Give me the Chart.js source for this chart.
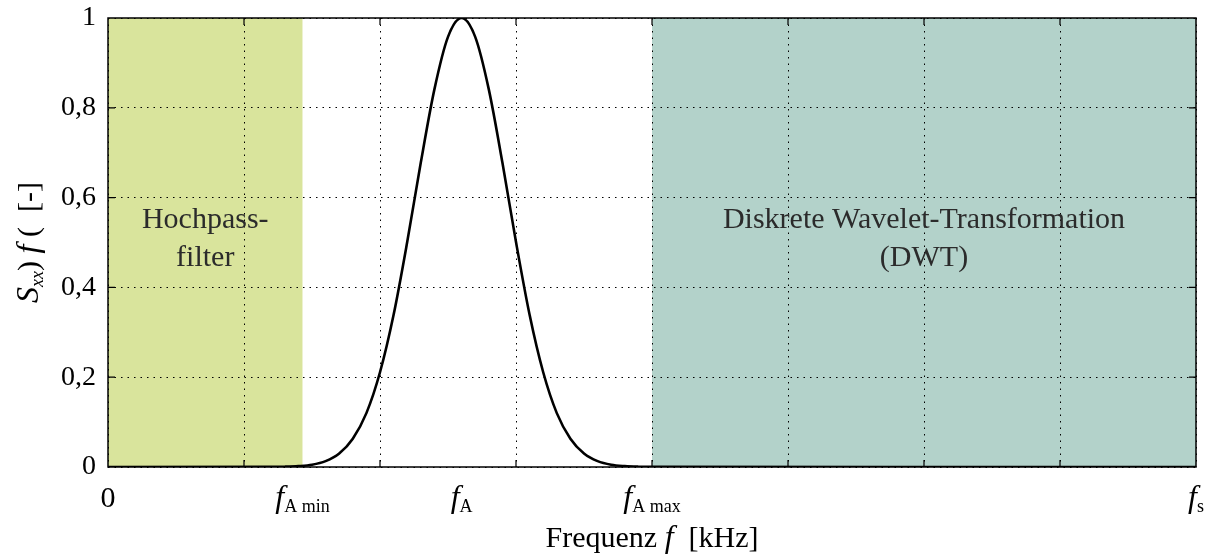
<!DOCTYPE html>
<html>
<head>
<meta charset="utf-8">
<script src="https://cdn.jsdelivr.net/npm/chart.js@4"></script>
<style>
  html, body { margin: 0; padding: 0; background: #fff; }
  #wrap { width: 1209px; height: 554px; }
</style>
</head>
<body>
<div id="wrap"><canvas id="specChart"></canvas></div>
<script>
// curve S_xx(f), x in grid units (0 .. 8 = fs)
const freqs = [0, 1.2, 1.3, 1.4, 1.5, 1.6, 1.7, 1.8, 1.9, 2.0, 2.1, 2.2, 2.3, 2.4, 2.5, 2.6,
               2.7, 2.8, 2.9, 3.0, 3.1, 3.2, 3.3, 3.4, 3.5, 3.6, 3.7, 3.8, 3.9, 4.0, 8];
const spectrum = [0, 0.0002, 0.0007, 0.002, 0.005, 0.013, 0.030, 0.063, 0.120, 0.211, 0.339, 0.501, 0.678, 0.841, 0.958, 1,
                  0.958, 0.841, 0.678, 0.501, 0.339, 0.211, 0.120, 0.063, 0.030, 0.013, 0.005, 0.002, 0.0007, 0.0002, 0];

// special frequencies on the x axis
const markPos = [0, 1.43, 2.6, 4, 8];
const markSub = [null, "A min", "A", "A max", "s"];

// shaded regions
const regions = [
  { from: 0, to: 1.43, color: "#d9e49c", lines: ["Hochpass-", "filter"] },
  { from: 4, to: 8, color: "#b3d2ca", lines: ["Diskrete Wavelet-Transformation", "(DWT)"] }
];

const yTicks = [0, 0.2, 0.4, 0.6, 0.8, 1];

const SERIF = "'Liberation Serif', 'DejaVu Serif', serif";

function runFont(r) {
  return (r[1] ? "italic " : "") + (r[2] ? "18px " : (r[1] ? "32px " : "30px ")) + SERIF;
}

function drawRuns(ctx, runs, cx, baseY) {
  // runs: [text, italic, sub]
  let total = 0;
  const w = runs.map(r => {
    ctx.font = runFont(r);
    const m = ctx.measureText(r[0]).width;
    total += m;
    return m;
  });
  let x = cx - total / 2;
  runs.forEach((r, i) => {
    ctx.font = runFont(r);
    ctx.fillText(r[0], x, baseY + (r[2] ? 5 : 0));
    x += w[i];
  });
}

const decoPlugin = {
  id: "deco",
  beforeDraw(chart) {
    const { ctx, chartArea: a, scales: { x } } = chart;
    ctx.save();
    regions.forEach(r => {
      ctx.fillStyle = r.color;
      const x0 = x.getPixelForValue(r.from), x1 = x.getPixelForValue(r.to);
      ctx.fillRect(x0, a.top, x1 - x0, a.bottom - a.top);
    });
    ctx.restore();
  },
  beforeDatasetsDraw(chart) {
    const { ctx, scales: { x, y } } = chart;
    ctx.save();
    ctx.fillStyle = "#2b2b2b";
    ctx.textAlign = "center";
    ctx.textBaseline = "alphabetic";
    ctx.font = "30px " + SERIF;
    regions.forEach(r => {
      const cx = (x.getPixelForValue(r.from) + x.getPixelForValue(r.to)) / 2;
      r.lines.forEach((t, i) => ctx.fillText(t, cx, y.getPixelForValue(0.6) + 30 + i * 38));
    });
    ctx.restore();
  },
  afterDraw(chart) {
    const { ctx, chartArea: a, scales: { x, y } } = chart;
    ctx.save();
    // frame
    ctx.strokeStyle = "#000";
    ctx.lineWidth = 1.5;
    ctx.strokeRect(a.left, a.top, a.right - a.left, a.bottom - a.top);
    // inner tick marks
    ctx.lineWidth = 1.2;
    ctx.beginPath();
    for (let v = 1; v < 8; v++) {
      const px = x.getPixelForValue(v);
      ctx.moveTo(px, a.bottom); ctx.lineTo(px, a.bottom - 7);
      ctx.moveTo(px, a.top); ctx.lineTo(px, a.top + 7);
    }
    yTicks.slice(1, -1).forEach(v => {
      const py = y.getPixelForValue(v);
      ctx.moveTo(a.left, py); ctx.lineTo(a.left + 7, py);
      ctx.moveTo(a.right, py); ctx.lineTo(a.right - 7, py);
    });
    ctx.stroke();

    // x labels
    ctx.fillStyle = "#000";
    ctx.textAlign = "left";
    markPos.forEach((v, i) => {
      const cx = x.getPixelForValue(v);
      if (markSub[i] === null) drawRuns(ctx, [["0", false, false]], cx, 507);
      else drawRuns(ctx, [["f", true, false], [markSub[i], false, true]], cx, 507);
    });
    // x title
    drawRuns(ctx, [["Frequenz ", false, false], ["f", true, false], ["  [kHz]", false, false]], (a.left + a.right) / 2, 547);

    // y title (rotated)
    ctx.translate(38, (a.top + a.bottom) / 2);
    ctx.rotate(-Math.PI / 2);
    drawRuns(ctx, [["S", true, false], ["xx", true, true], [") ", false, false], ["f", true, false], [" (  [-]", false, false]], 0, 0);
    ctx.restore();
  }
};

new Chart(document.getElementById("specChart").getContext("2d"), {
  type: "line",
  data: {
    datasets: [{
      data: freqs.map((f, i) => ({ x: f, y: spectrum[i] })),
      borderColor: "#000",
      borderWidth: 2.6,
      pointRadius: 0,
      fill: false,
      cubicInterpolationMode: "monotone"
    }]
  },
  options: {
    responsive: true,
    maintainAspectRatio: false,
    animation: false,
    layout: { padding: { top: 18, right: 13, left: 0, bottom: 0 } },
    plugins: { legend: { display: false }, tooltip: { enabled: false } },
    scales: {
      x: {
        type: "linear",
        min: 0,
        max: 8,
        grid: { color: "#000", lineWidth: 1, drawTicks: false },
        border: { display: false, dash: [1.5, 5] },
        ticks: { stepSize: 1, callback: () => "" },
        afterFit: s => { s.height = 87; s.paddingLeft = 0; s.paddingRight = 0; }
      },
      y: {
        min: 0,
        max: 1,
        grid: { color: "#000", lineWidth: 1, drawTicks: false },
        border: { display: false, dash: [1.5, 5] },
        ticks: {
          stepSize: 0.2,
          color: "#000",
          padding: 12,
          font: { family: SERIF, size: 28 },
          callback: v => v === 0 ? "0" : v === 1 ? "1" : v.toFixed(1).replace(".", ",")
        },
        afterFit: s => { s.width = 108; s.paddingTop = 0; s.paddingBottom = 0; }
      }
    }
  },
  plugins: [decoPlugin]
});
</script>
</body>
</html>
